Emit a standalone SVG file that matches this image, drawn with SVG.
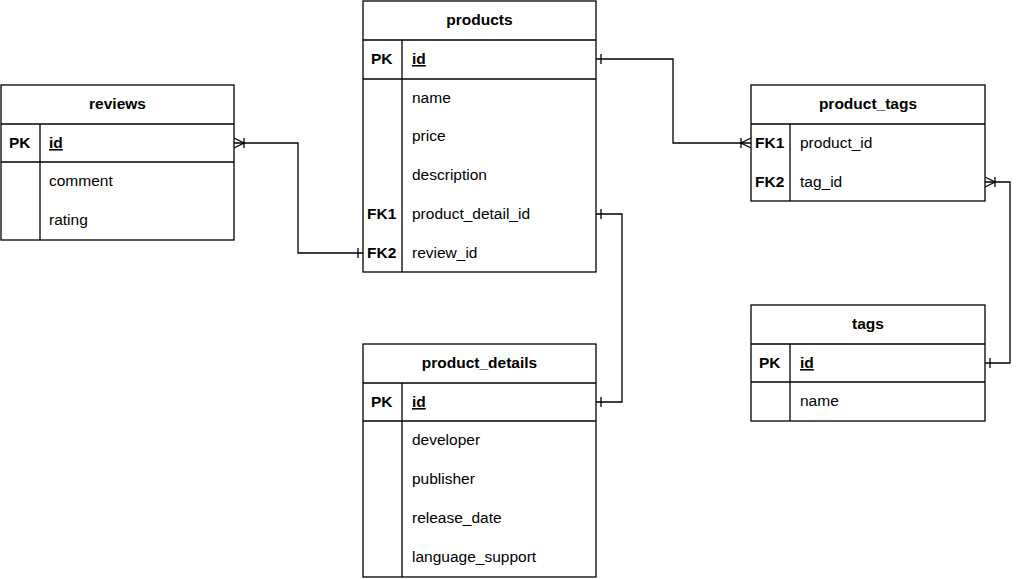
<svg xmlns="http://www.w3.org/2000/svg" width="1024" height="579" viewBox="0 0 1024 579">
<style>
.box{fill:#fff;stroke:#000;stroke-width:1.3}
.ln{stroke:#000;stroke-width:1.3;fill:none}
.h{font-family:"Liberation Sans",Arial,sans-serif;font-size:15.5px;font-weight:bold;text-anchor:middle;fill:#000}
.k{font-family:"Liberation Sans",Arial,sans-serif;font-size:15.5px;font-weight:bold;fill:#000}
.f{font-family:"Liberation Sans",Arial,sans-serif;font-size:15.5px;fill:#000}
.u{text-decoration:underline}
.c{stroke:#000;stroke-width:1.3;fill:none}
</style>
<rect width="1024" height="579" fill="#fff"/>
<g id="products">
<rect class="box" x="363" y="1" width="233" height="271"/>
<line class="ln" x1="363" y1="40" x2="596" y2="40"/>
<line class="ln" x1="363" y1="79" x2="596" y2="79"/>
<line class="ln" x1="402" y1="40" x2="402" y2="272"/>
<text class="h" x="479.5" y="25">products</text>
<text class="k" x="371" y="64">PK</text>
<text class="k u" x="412" y="64">id</text>
<text class="f" x="412" y="103">name</text>
<text class="f" x="412" y="141">price</text>
<text class="f" x="412" y="180">description</text>
<text class="k" x="367" y="219">FK1</text>
<text class="f" x="412" y="219">product_detail_id</text>
<text class="k" x="367" y="258">FK2</text>
<text class="f" x="412" y="258">review_id</text>
</g>
<g id="reviews">
<rect class="box" x="1" y="85" width="233" height="155"/>
<line class="ln" x1="1" y1="124" x2="234" y2="124"/>
<line class="ln" x1="1" y1="162" x2="234" y2="162"/>
<line class="ln" x1="40" y1="124" x2="40" y2="240"/>
<text class="h" x="117.5" y="109">reviews</text>
<text class="k" x="9" y="148">PK</text>
<text class="k u" x="49" y="148">id</text>
<text class="f" x="49" y="186">comment</text>
<text class="f" x="49" y="225">rating</text>
</g>
<g id="product_tags">
<rect class="box" x="751" y="85" width="234" height="116"/>
<line class="ln" x1="751" y1="124" x2="985" y2="124"/>
<line class="ln" x1="790" y1="124" x2="790" y2="201"/>
<text class="h" x="868" y="109">product_tags</text>
<text class="k" x="755" y="148">FK1</text>
<text class="f" x="800" y="148">product_id</text>
<text class="k" x="755" y="187">FK2</text>
<text class="f" x="800" y="187">tag_id</text>
</g>
<g id="tags">
<rect class="box" x="751" y="305" width="234" height="116"/>
<line class="ln" x1="751" y1="344" x2="985" y2="344"/>
<line class="ln" x1="751" y1="382" x2="985" y2="382"/>
<line class="ln" x1="790" y1="344" x2="790" y2="421"/>
<text class="h" x="868" y="329">tags</text>
<text class="k" x="759" y="368">PK</text>
<text class="k u" x="800" y="368">id</text>
<text class="f" x="800" y="406">name</text>
</g>
<g id="product_details">
<rect class="box" x="363" y="344" width="233" height="233"/>
<line class="ln" x1="363" y1="383" x2="596" y2="383"/>
<line class="ln" x1="363" y1="421" x2="596" y2="421"/>
<line class="ln" x1="402" y1="383" x2="402" y2="577"/>
<text class="h" x="479.5" y="368">product_details</text>
<text class="k" x="371" y="407">PK</text>
<text class="k u" x="412" y="407">id</text>
<text class="f" x="412" y="445">developer</text>
<text class="f" x="412" y="484">publisher</text>
<text class="f" x="412" y="523">release_date</text>
<text class="f" x="412" y="562">language_support</text>
</g>
<g id="connectors">
<path class="c" d="M234,143 H298 V253 H363"/>
<path class="c" d="M234,138 L244,143 L234,148 M244,138 V148 M358,248 V258"/>
<path class="c" d="M596,59 H673 V143 H751"/>
<path class="c" d="M601,54 V64 M751,138 L741,143 L751,148 M741,138 V148"/>
<path class="c" d="M596,214 H622 V402 H596"/>
<path class="c" d="M601,209 V219 M601,397 V407"/>
<path class="c" d="M985,182 H1010 V363 H985"/>
<path class="c" d="M985,177 L995,182 L985,187 M995,177 V187 M990,358 V368"/>
</g>
</svg>
